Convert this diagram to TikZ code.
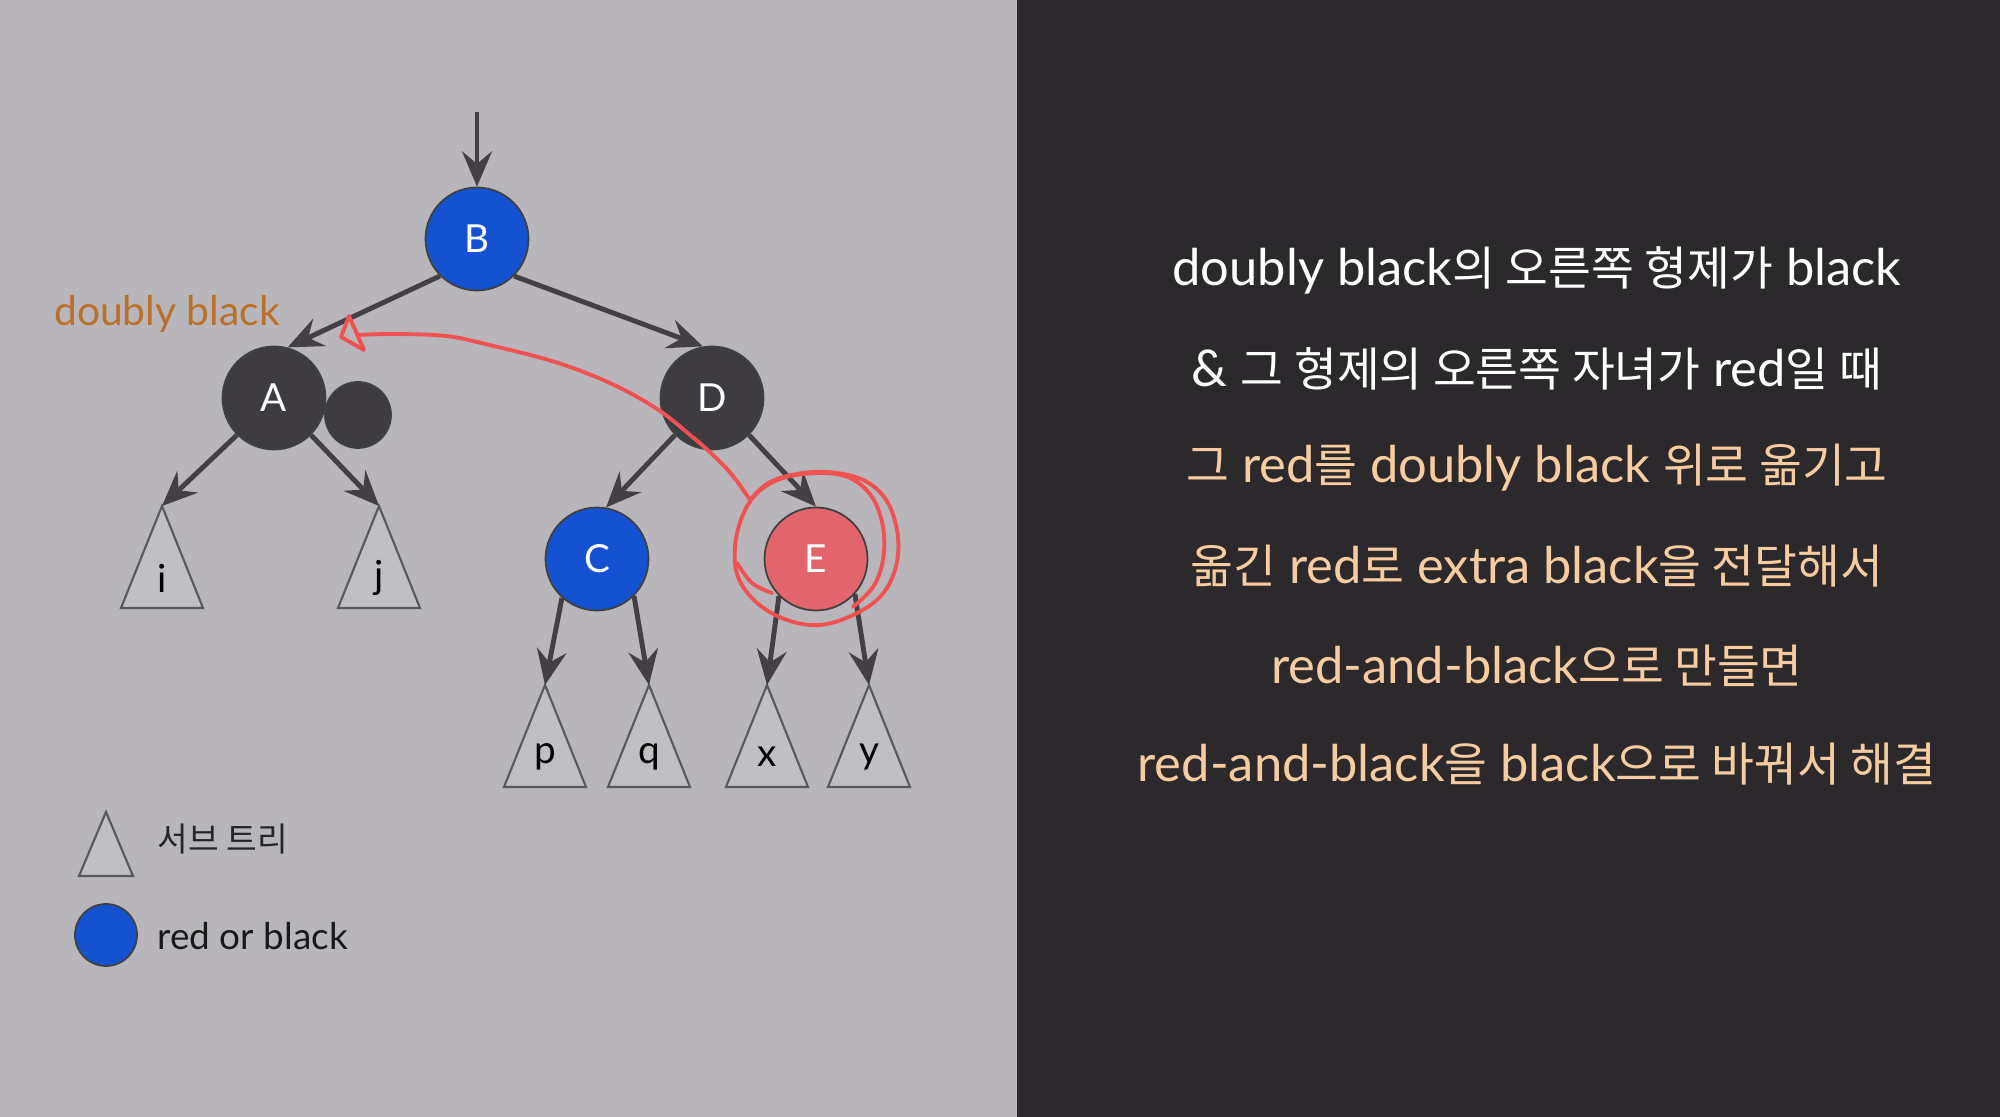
\documentclass[tikz,border=0pt]{standalone}
\usepackage{fontspec}
\setmainfont{Lato}
\newfontfamily\kr[Scale=0.92]{Noto Sans CJK KR}
\usetikzlibrary{arrows.meta,positioning,calc}
\definecolor{slideGray}{RGB}{184,182,186}
\definecolor{slideDark}{RGB}{43,41,44}
\definecolor{nodeDark}{RGB}{62,60,64}
\definecolor{nodeBlue}{RGB}{20,82,210}
\definecolor{nodeRed}{RGB}{226,100,108}
\definecolor{edgeGray}{RGB}{66,64,68}
\definecolor{treeFill}{RGB}{192,191,195}
\definecolor{dbOrange}{RGB}{186,112,40}
\definecolor{peach}{RGB}{246,204,160}
\definecolor{penRed}{RGB}{240,82,82}
\newcommand{\ko}[1]{{\kr #1}}

\tikzset{
  rbnode/.style={circle, draw=black!75, line width=0.5pt, minimum size=1.03cm,
    inner sep=0pt, text=white, font=\fontsize{11}{13}\selectfont},
  treeedge/.style={edgeGray, line width=1.4pt,
    -{Stealth[length=10pt, width=8.5pt, inset=3.5pt]}},
  subtree/.style={fill=treeFill, draw=black!65, line width=0.6pt, line join=miter},
  leaflabel/.style={inner sep=0pt, font=\fontsize{11}{13}\selectfont},
  ruletext/.style={inner sep=0pt, font=\fontsize{14.4}{17}\selectfont},
  pen/.style={penRed, line width=1.1pt, line cap=round, line join=round},
}

\begin{document}
\begin{tikzpicture}
    \useasboundingbox (0,0) rectangle (20,11.17);
    % the two halves of the slide
    \fill[slideGray] (0,0) rectangle (10.17,11.17);
    \fill[slideDark] (10.17,0) rectangle (20,11.17);

    % tree nodes
    \node[circle, fill=nodeDark, draw=black!75, line width=0.5pt, minimum size=0.66cm] (extra) at (3.58,7.02) {};
    \node[rbnode, fill=nodeBlue] (B) at (4.77,8.78) {B};
    \node[rbnode, fill=nodeDark] (A) at (2.74,7.19) {A};
    \node[rbnode, fill=nodeDark] (D) at (7.12,7.19) {D};
    \node[rbnode, fill=nodeBlue] (C) at (5.97,5.58) {C};
    \node[rbnode, fill=nodeRed] (E) at (8.16,5.58) {E};
    \coordinate (root) at (4.77,10.05);

    % subtrees i, j, p, q, x, y
    \foreach \nm/\tx/\ty in {i/1.62/6.11, j/3.79/6.11, p/5.45/4.32, q/6.49/4.32, x/7.67/4.32, y/8.69/4.32} {
      \coordinate (t\nm) at (\tx,\ty);
      \draw[subtree] (t\nm) -- ++(-0.41,-1.02) -- ++(0.82,0) -- cycle;
      \node[leaflabel] (l\nm) at (\tx,\ty-0.72) {\nm};
    }

    % edges
    \draw[treeedge] (root) -- (B.north);
    \draw[treeedge] (B.225) -- (A.75);
    \draw[treeedge] (B.315) -- (D.100);
    \draw[treeedge] (A.225) -- (ti);
    \draw[treeedge] (A.315) -- (tj);
    \draw[treeedge] (D.225) -- (C.80);
    \draw[treeedge] (D.315) -- (E.north);
    \draw[treeedge] (C.228) -- (tp);
    \draw[treeedge] (C.315) -- (tq);
    \draw[treeedge] (E.225) -- (tx);
    \draw[treeedge] (E.318) -- (ty);

    % label of the doubly black node
    \node[inner sep=0pt, text=dbOrange, font=\fontsize{11.6}{14}\selectfont] (dblabel) at (1.67,8.03) {doubly black};

    % pen annotation: move the red up
    \draw[pen] (3.41,7.80) -- (3.49,8.01) -- (3.64,7.67) -- cycle;
    \draw[pen] plot[smooth, tension=0.6] coordinates {
      (3.57,7.82) (3.95,7.83) (4.46,7.81) (4.85,7.73) (5.55,7.55) (6.12,7.33)
      (6.57,7.08) (6.89,6.83) (7.14,6.61) (7.33,6.41) (7.50,6.17)};
    \draw[pen] plot[smooth, tension=0.6] coordinates {
      (7.50,6.17) (7.70,6.35) (8.03,6.44) (8.37,6.44) (8.67,6.35) (8.88,6.14)
      (8.98,5.80) (8.95,5.47) (8.80,5.20) (8.53,5.02) (8.20,4.92) (7.87,4.97)
      (7.57,5.14) (7.38,5.40) (7.35,5.70) (7.42,6.00) (7.57,6.24) (7.83,6.39)
      (8.20,6.44) (8.50,6.39) (8.72,6.20) (8.83,5.90) (8.83,5.57) (8.73,5.30)
      (8.53,5.10)};
    \draw[pen] plot[smooth, tension=0.6] coordinates {(7.37,5.54) (7.52,5.34) (7.72,5.24)};

    % legend
    \draw[subtree] (1.06,3.05) -- ++(-0.27,-0.64) -- ++(0.54,0) -- cycle;
    \node[inner sep=0pt, anchor=west, text=black!85, font=\fontsize{10.3}{12}\selectfont] (lgtree) at (1.57,2.78) {\ko{서브 트리}};
    \node[circle, fill=nodeBlue, draw=black!75, line width=0.5pt, minimum size=0.62cm, inner sep=0pt] (lgnode) at (1.06,1.82) {};
    \node[inner sep=0pt, anchor=west, text=black!90, font=\fontsize{10.5}{12}\selectfont] (lgtext) at (1.57,1.81) {red or black};

    % rule text on the right
    \node[ruletext, text=white] (r1) at (15.37,8.47) {doubly black\ko{의 오른쪽 형제가} black};
    \node[ruletext, text=white] (r2) at (15.37,7.48) {\& \ko{그 형제의 오른쪽 자녀가} red\ko{일 때}};
    \node[ruletext, text=peach] (r3) at (15.37,6.49) {\ko{그} red\ko{를} doubly black \ko{위로 옮기고}};
    \node[ruletext, text=peach] (r4) at (15.37,5.51) {\ko{옮긴} red\ko{로} extra black\ko{을 전달해서}};
    \node[ruletext, text=peach] (r5) at (15.37,4.51) {red-and-black\ko{으로 만들면}};
    \node[ruletext, text=peach] (r6) at (15.37,3.53) {red-and-black\ko{을} black\ko{으로 바꿔서 해결}};
\end{tikzpicture}
\end{document}
